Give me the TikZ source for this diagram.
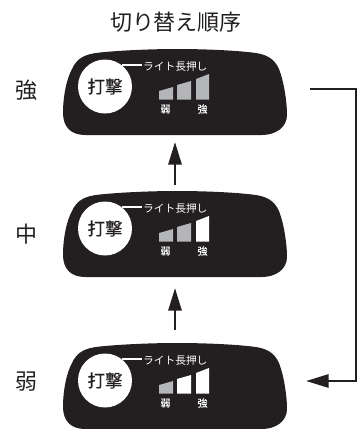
\documentclass[tikz,border=0pt]{standalone}
\usepackage{fontspec}
\setmainfont{Noto Sans CJK JP}
\newfontfamily\heavyjp[FakeBold=0.4]{Noto Sans CJK JP}
\usetikzlibrary{arrows.meta}
\definecolor{ink}{HTML}{231F20}
\definecolor{bargray}{HTML}{B3B5B8}
\tikzset{
  panel/.style={fill=ink,draw=none},
  lamp/.style={circle,fill=white,minimum size=54pt,inner sep=0pt,text=ink,font=\heavyjp\fontsize{17.5}{18}\selectfont},
  leader/.style={draw=white,line width=1.3pt},
  toplabel/.style={text=white,inner sep=0pt,font=\fontsize{10.7}{11}\selectfont},
  levellabel/.style={text=white,inner sep=0pt,font=\heavyjp\fontsize{10}{10}\selectfont},
  sidelabel/.style={text=ink,inner sep=0pt,font=\fontsize{22}{22}\selectfont},
  flow/.style={draw=ink,line width=2.7pt,-{Triangle[length=22.5pt,width=13pt]}},
}
\begin{document}
\begin{tikzpicture}[x=1pt,y=-1pt]
\useasboundingbox (0,0) rectangle (359,429);
\node[sidelabel] (title) at (176,22) {切り替え順序};
\foreach \n/\d/\side/\sy/\ca/\cb/\cc in {s/0/強/90/bargray/bargray/bargray,m/142/中/234/bargray/bargray/white,w/294/弱/382/bargray/white/white}{
  \begin{scope}[yshift=-\d pt]
    \fill[panel] (63,113) .. controls (63,98) and (66,80) .. (72,69)
      .. controls (77,58) and (85,54) .. (100,52.5)
      .. controls (125,50) and (155,49) .. (177,49)
      .. controls (200,49) and (230,50) .. (252,52.5)
      .. controls (266,54) and (274,58) .. (279,69)
      .. controls (284,82) and (287,102) .. (287,115)
      .. controls (287,127) and (276,135) .. (262,135)
      -- (85,135) .. controls (71,135) and (63,127) .. (63,113) -- cycle;
    \coordinate (\n top) at (175,49);
    \coordinate (\n bot) at (175,135);
    \node[lamp] (\n lamp) at (105,86.5) {打撃};
    \node[toplabel,anchor=west] (\n txt) at (143,66) {ライト長押し};
    \draw[leader] (\n lamp.north east |- 0,65) ++(-2,0) coordinate (\n a) -- (141.5,65) coordinate (\n b);
    \fill[\ca] (159,99.5) -- (159,91) -- (173,87) -- (173,99.5) -- cycle;
    \fill[\cb] (177,99.5) -- (177,85) -- (191,81) -- (191,99.5) -- cycle;
    \fill[\cc] (196,99.5) -- (196,79) -- (209,74) -- (209,99.5) -- cycle;
    \node[levellabel] (\n weak) at (165.5,109) {弱};
    \node[levellabel] (\n strong) at (202.5,109) {強};
  \end{scope}
  \node[sidelabel] (\n side) at (27,\sy) {\side};
}
\draw[flow,shorten <=6pt,shorten >=7pt] (mtop) -- (sbot);
\draw[flow,shorten <=13pt,shorten >=11pt] (wtop) -- (mbot);
\coordinate (srcout) at (310,89);
\coordinate (dstin) at (306,381);
\draw[flow,line join=miter] (srcout) -| (356,381) -- (dstin);
\end{tikzpicture}
\end{document}
